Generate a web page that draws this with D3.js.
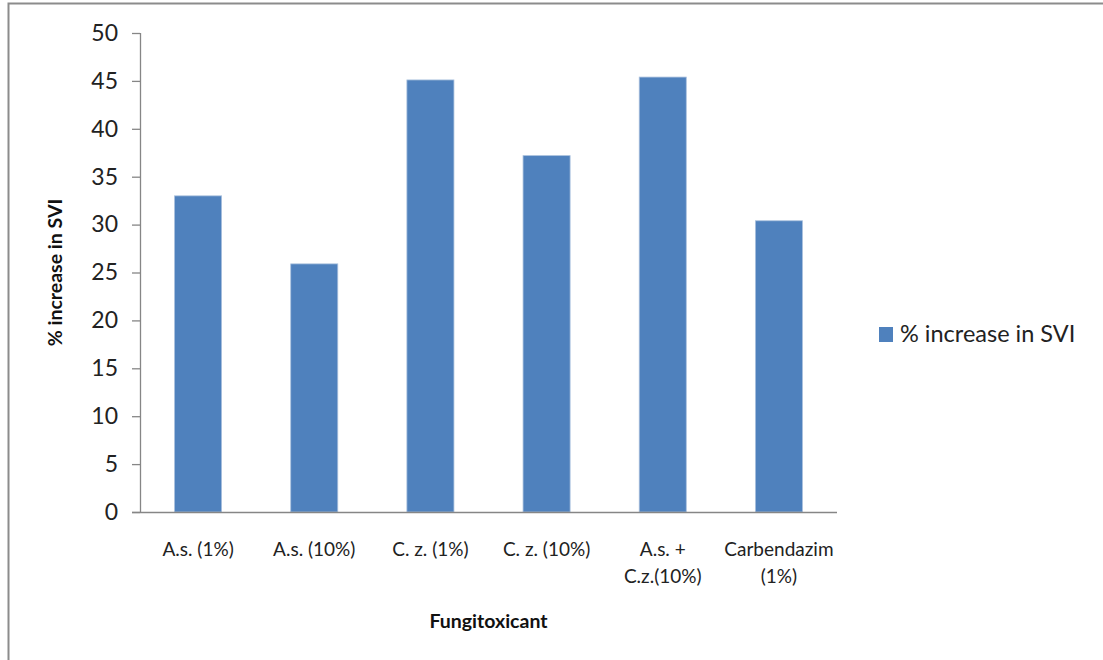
<!DOCTYPE html>
<html lang="en">
<head>
<meta charset="UTF-8">
<script src="https://d3js.org/d3.v7.min.js"></script>
<title>% increase in SVI</title>
<style>
  body { margin: 0; background: #fff; }
  text { font-family: Lato, "Open Sans", sans-serif; }
</style>
</head>
<body>
<div id="chart"></div>
<script>
    var width = 1103;
    var height = 660;

    // data
    const categories = ["A.s. (1%)", "A.s. (10%)", "C. z. (1%)", "C. z. (10%)", "A.s. +|C.z.(10%)", "Carbendazim|(1%)"];
    const values = [33.0, 25.9, 45.1, 37.2, 45.4, 30.4];
    const yTicks = [0, 5, 10, 15, 20, 25, 30, 35, 40, 45, 50];
    const seriesName = "% increase in SVI";

    const margin = {left: 140, right: 266, top: 33, bottom: 148};
    const plotW = width - margin.left - margin.right;
    const plotH = height - margin.top - margin.bottom;

    var svg = d3.select("#chart").append("svg")
        .attr("width", width).attr("height", height);

    // outer chart border
    svg.append("rect")
        .attr("x", 8.5).attr("y", 3.5)
        .attr("width", 1110).attr("height", 680)
        .attr("fill", "none").attr("stroke", "#8c8c8c").attr("stroke-width", 2);

    const x = d3.scaleBand().domain(categories).range([0, plotW]).paddingInner(0.595).paddingOuter(0.2975);
    const y = d3.scaleLinear().domain([0, 50]).range([plotH, 0]);

    const g = svg.append("g").attr("transform", `translate(${margin.left},${margin.top})`);

    // bars
    g.selectAll("rect.bar").data(values).enter().append("rect")
        .attr("class", "bar")
        .attr("x", (d, i) => x(categories[i]))
        .attr("y", d => y(d))
        .attr("width", x.bandwidth())
        .attr("height", d => plotH - y(d))
        .attr("fill", "#4f81bd")
        .attr("stroke", "#a9c0dd").attr("stroke-width", 0.8);

    // y axis
    const yAxis = g.append("g")
        .call(d3.axisLeft(y).tickValues(yTicks).tickSize(8).tickPadding(14));
    yAxis.selectAll("line, path").attr("stroke", "#868686").attr("stroke-width", 1.3);
    yAxis.select(".domain").attr("d", `M0.5,0V${plotH}`);
    yAxis.selectAll("text").attr("font-size", 23).attr("fill", "#222")
        .style("font-family", "Lato, sans-serif");

    // x axis line
    g.append("line")
        .attr("x1", -8).attr("x2", plotW)
        .attr("y1", plotH + 0.5).attr("y2", plotH + 0.5)
        .attr("stroke", "#868686").attr("stroke-width", 1.3);

    // category labels
    const labels = g.selectAll("text.cat").data(categories).enter().append("text")
        .attr("class", "cat")
        .attr("text-anchor", "middle")
        .attr("font-size", 19).attr("fill", "#222")
        .attr("transform", d => `translate(${x(d) + x.bandwidth() / 2},${plotH + 44})`);
    labels.each(function(d) {
        const parts = d.split("|");
        d3.select(this).selectAll("tspan").data(parts).enter().append("tspan")
            .attr("x", 0).attr("dy", (p, i) => i === 0 ? 0 : 26.5)
            .text(p => p);
    });

    // axis titles
    svg.append("text")
        .attr("x", margin.left + plotW / 2).attr("y", 628)
        .attr("text-anchor", "middle").attr("font-size", 19.5).attr("font-weight", "bold")
        .attr("fill", "#111").text("Fungitoxicant");

    svg.append("text")
        .attr("transform", `translate(62,${margin.top + plotH / 2}) rotate(-90)`)
        .attr("text-anchor", "middle").attr("font-size", 19.5).attr("font-weight", "bold")
        .attr("fill", "#111").text(seriesName);

    // legend
    const legend = svg.append("g").attr("transform", "translate(879,327)");
    legend.append("rect").attr("width", 14).attr("height", 15).attr("fill", "#4f81bd");
    legend.append("text").attr("x", 21).attr("y", 15)
        .attr("font-size", 23.5).attr("fill", "#222").text(seriesName);
</script>
</body>
</html>
